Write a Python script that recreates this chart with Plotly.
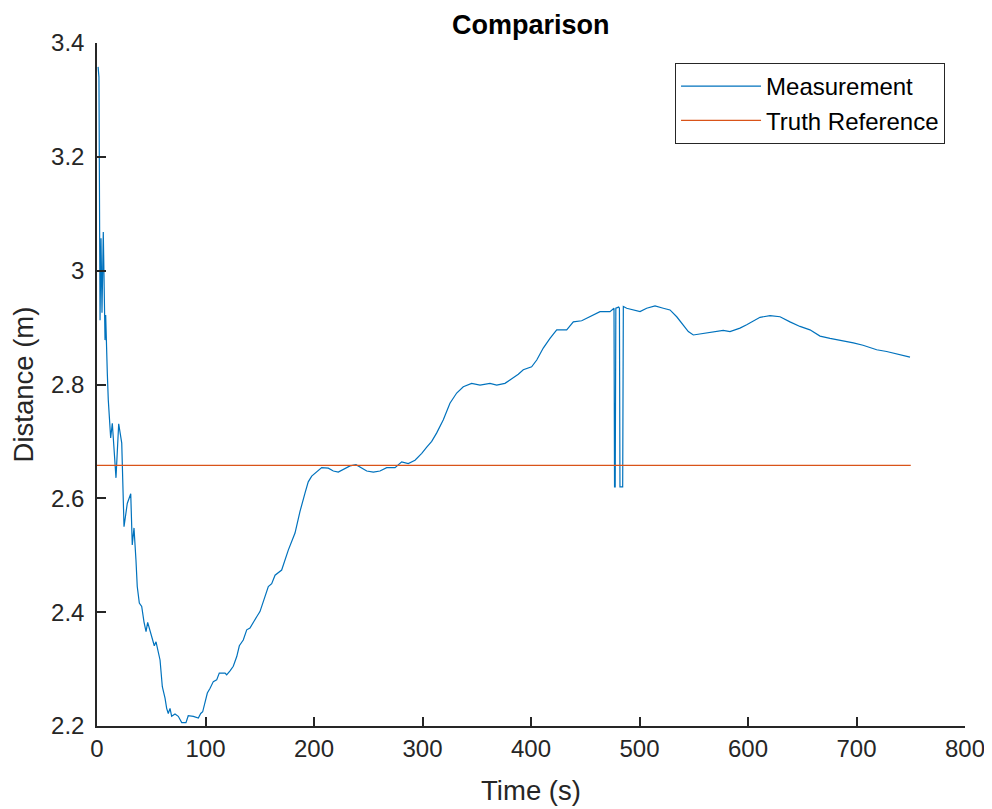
import plotly.graph_objects as go

# Measurement time (s)
meas_t = [1.0, 1.8, 2.8, 3.7, 4.6, 5.8, 7.4, 8.0, 9.5, 10.4, 12.6, 14.1, 17.5, 20.0, 22.8,
          24.9, 27.9, 31.1, 32.5, 34.1,
          35.9, 37.1, 39.0, 41.2, 43.3, 45.2, 46.7, 48.8, 51.3, 52.8, 54.4, 55.6, 58.1,
          60.2, 62.7, 64.2, 65.7, 67.3, 68.8, 71.9, 74.9, 78.1, 82.0, 84.1, 88.8, 93.4,
          95.6, 97.4, 99.5, 101.7, 104.1, 107.2, 110.3, 112.7, 118.0, 119.5, 122.6,
          125.6, 128.8, 131.2, 134.8, 138.0, 141.0, 144.7, 147.2, 150.2, 152.7, 154.8,
          157.9, 161.0, 164.1, 170.2, 176.3, 182.5, 187.1, 191.7, 194.7, 197.9, 202.5,
          207.1, 213.2, 217.8, 222.4, 227.0, 233.2, 238.7, 244.0, 248.6, 254.7, 260.8,
          267.0, 274.7, 280.8, 286.9, 293.1, 299.3, 303.9, 308.5,
          313.1, 319.2, 325.3, 331.5, 337.6, 345.3, 353.0, 362.2, 368.4,
          376.0, 380.6, 388.3, 392.9, 400.6, 405.3, 411.3, 417.5, 423.7, 432.9, 439.0,
          446.7, 454.4, 463.6, 472.8, 476.5, 477.0, 477.6, 478.2, 480.8, 481.5, 482.0,
          484.5, 485.1, 488.2, 500.5, 506.6, 514.3, 521.9, 528.1, 534.3, 540.4, 545.0,
          549.6, 558.8, 568.0, 577.2, 583.4, 592.6, 598.8, 604.9, 611.1, 620.3, 629.5,
          638.7, 647.9, 657.1, 666.4, 675.6, 687.8, 697.1, 706.0, 718.6, 727.8, 737.0,
          749.3]
# Measurement distance (m)
meas_d = [3.358, 3.340, 2.913, 3.057, 2.926, 3.068, 2.878, 2.922, 2.820, 2.773, 2.706, 2.732,
          2.636, 2.731, 2.697, 2.550, 2.591, 2.608, 2.518, 2.548,
          2.492, 2.445, 2.416, 2.410, 2.383, 2.366, 2.382, 2.369, 2.354, 2.341, 2.348,
          2.336, 2.316, 2.269, 2.249, 2.231, 2.222, 2.231, 2.217, 2.221, 2.217, 2.206,
          2.206, 2.218, 2.217, 2.214, 2.222, 2.225, 2.243, 2.258, 2.266, 2.278, 2.281,
          2.293, 2.293, 2.290, 2.297, 2.305, 2.322, 2.341, 2.351, 2.369, 2.372, 2.385,
          2.392, 2.401, 2.416, 2.426, 2.445, 2.450, 2.465, 2.474, 2.509, 2.539, 2.577,
          2.609, 2.629, 2.639, 2.647, 2.654, 2.653, 2.648, 2.646, 2.651, 2.657, 2.659,
          2.653, 2.648, 2.646, 2.648, 2.654, 2.654, 2.664, 2.661, 2.667, 2.679, 2.690,
          2.700,
          2.715, 2.738, 2.767, 2.785, 2.796, 2.802, 2.799, 2.802, 2.799, 2.802, 2.808,
          2.818, 2.826, 2.831, 2.843, 2.864, 2.881, 2.896, 2.896, 2.910, 2.912, 2.919,
          2.928, 2.928, 2.934, 2.620, 2.620, 2.934, 2.936, 2.934, 2.620, 2.620, 2.937,
          2.934, 2.928, 2.934, 2.938, 2.934, 2.931, 2.919, 2.905, 2.893, 2.887, 2.890,
          2.893, 2.895, 2.893, 2.899, 2.905, 2.912, 2.918, 2.921, 2.919, 2.910, 2.902,
          2.896, 2.885, 2.881, 2.877, 2.873, 2.869, 2.861, 2.858, 2.854, 2.848]

truth_t = [0, 750]
truth_d = [2.658, 2.658]

x_ticks = [0, 100, 200, 300, 400, 500, 600, 700, 800]
y_ticks = [2.2, 2.4, 2.6, 2.8, 3.0, 3.2, 3.4]
y_labels = ["2.2", "2.4", "2.6", "2.8", "3", "3.2", "3.4"]

FONT = "Liberation Sans, Arial, Helvetica, sans-serif"
AX = "#262626"

fig = go.Figure()
fig.add_trace(go.Scatter(x=meas_t, y=meas_d, mode="lines", name="Measurement",
                         line=dict(color="#0072BD", width=1.2)))
fig.add_trace(go.Scatter(x=truth_t, y=truth_d, mode="lines", name="Truth Reference",
                         line=dict(color="#D95319", width=1.2)))

fig.update_layout(
    width=984, height=801,
    margin=dict(l=89, r=27, t=35, b=83, autoexpand=False),
    paper_bgcolor="white", plot_bgcolor="white",
    font=dict(family=FONT, size=24, color=AX),
    showlegend=True,
    legend=dict(x=0.9770, y=0.9707, xanchor="right", yanchor="top",
                bgcolor="white", bordercolor=AX, borderwidth=1,
                font=dict(size=24, color="black", family=FONT),
                itemwidth=80, tracegroupgap=0),
    xaxis=dict(range=[0, 800], tickvals=x_ticks, ticks="inside", ticklen=9,
               tickwidth=1.5, tickcolor=AX, showline=True, linecolor=AX, linewidth=1.5,
               showgrid=False, zeroline=False, mirror=False, automargin=False,
               title=dict(text="Time (s)", font=dict(size=27.5, color=AX), standoff=20),
               tickfont=dict(size=24, color=AX)),
    yaxis=dict(range=[2.2, 3.4], tickvals=y_ticks, ticktext=y_labels, ticks="inside",
               ticklen=9, tickwidth=1.5, tickcolor=AX, showline=True, linecolor=AX,
               linewidth=1.5, showgrid=False, zeroline=False, mirror=False, automargin=False,
               ticklabelstandoff=6,
               title=dict(text="Distance (m)", font=dict(size=27.5, color=AX), standoff=10),
               tickfont=dict(size=24, color=AX)),
    annotations=[dict(text="<b>Comparison</b>", xref="paper", yref="paper",
                      x=0.5, y=1.0505, xanchor="center", yanchor="top", borderpad=0,
                      showarrow=False, font=dict(size=27, color="black", family=FONT))],
)

fig.write_html("out.html")
